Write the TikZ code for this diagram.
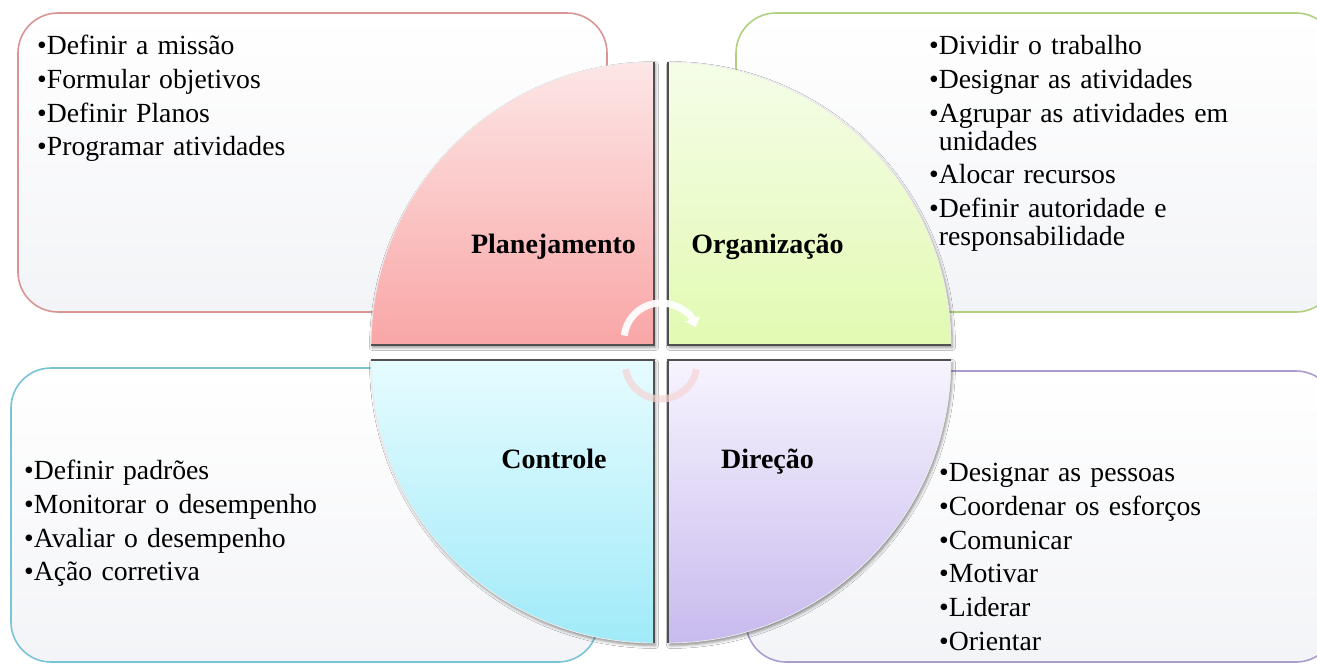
\documentclass[tikz,border=0pt]{standalone}
\usepackage{fontspec}
\setmainfont{Liberation Serif}
\usetikzlibrary{shadows.blur,arrows.meta}
\definecolor{bdP}{RGB}{217,149,148}
\definecolor{bdO}{RGB}{176,208,128}
\definecolor{bdC}{RGB}{120,196,214}
\definecolor{bdD}{RGB}{172,156,204}
\definecolor{boxbot}{RGB}{243,244,247}
\definecolor{pT}{RGB}{253,230,230}
\definecolor{pB}{RGB}{249,166,166}
\definecolor{oT}{RGB}{245,253,232}
\definecolor{oB}{RGB}{226,250,178}
\definecolor{cT}{RGB}{230,252,255}
\definecolor{cB}{RGB}{160,234,248}
\definecolor{dT}{RGB}{247,244,254}
\definecolor{dB}{RGB}{200,186,238}
\definecolor{edgegray}{RGB}{80,80,80}
\definecolor{cycpink}{RGB}{245,212,212}
\newlength\bulw
\newcommand\bitem{\par\settowidth\bulw{•}\hangindent=\bulw\hangafter=1\relax\noindent•}
\begin{document}
\begin{tikzpicture}[x=1pt,y=-1pt,
  infobox/.style={draw, line width=1.6pt, rounded corners=40pt, top color=white, bottom color=boxbot, shape=rectangle, inner sep=0pt},
  qshape/.style={blur shadow={shadow xshift=1.5pt,shadow yshift=-2.5pt,shadow blur radius=3pt,shadow opacity=45}},
  qedge/.style={draw=edgegray, line width=1.2pt},
  qrim/.style={draw=white!85!gray, line width=0.8pt},
  blist/.style={anchor=base west, text width=400pt, align=left, inner sep=0pt, font=\fontsize{27.7}{28}\selectfont, execute at begin node={\setlength\parskip{5.7pt}}},
  qlabel/.style={anchor=base, inner sep=0pt, font=\fontsize{28}{28}\selectfont\bfseries},
  cycA/.style={line width=7pt, draw=white, draw opacity=0.92},
  cycB/.style={line width=7pt, draw=cycpink, draw opacity=0.7}
]
\useasboundingbox (0,0) rectangle (1317,665);
\clip (0,0) rectangle (1317,665);
\fill[white] (0,0) rectangle (1317,665);

% outer boxes
\node[infobox, draw=bdP, minimum width=589pt, minimum height=299pt] (boxP) at (312.5,162.5) {};
\node[infobox, draw=bdO, minimum width=600pt, minimum height=299pt] (boxO) at (1036,162.5) {};
\node[infobox, draw=bdC, minimum width=587pt, minimum height=294pt] (boxC) at (304.5,515) {};
\node[infobox, draw=bdD, minimum width=590pt, minimum height=291pt] (boxD) at (1041,516.5) {};

% quadrants
\path[qshape, top color=pT, bottom color=pB] (654,345) -- (371,345) arc[start angle=180,end angle=270,radius=283] -- cycle;
\draw[qrim] (371,345) arc[start angle=180,end angle=270,radius=283];
\draw[qedge] (371,345) -- (654,345) -- (654,62);

\path[qshape, top color=oT, bottom color=oB] (668,345) -- (668,62) arc[start angle=270,end angle=360,radius=283] -- cycle;
\draw[qrim] (668,62) arc[start angle=270,end angle=360,radius=283];
\draw[qedge] (951,345) -- (668,345) -- (668,62);

\path[qshape, top color=cT, bottom color=cB] (654,360) -- (371,360) arc[start angle=180,end angle=90,radius=283] -- cycle;
\draw[qrim] (371,360) arc[start angle=180,end angle=90,radius=283];
\draw[qedge] (371,360) -- (654,360) -- (654,643);

\path[qshape, top color=dT, bottom color=dB] (668,360) -- (951,360) arc[start angle=0,end angle=90,radius=283] -- cycle;
\draw[qrim] (951,360) arc[start angle=0,end angle=90,radius=283];
\draw[qedge] (951,360) -- (668,360) -- (668,643);

% cycle arrows
\coordinate (cycTop) at (661,340);
\coordinate (cycBot) at (661,363);
\draw[cycA, -{Triangle[width=15pt,length=9pt]}] (cycTop) ++(187:37) arc[start angle=187,end angle=340,radius=37];
\draw[cycB] (cycBot) ++(170:36) arc[start angle=170,end angle=10,radius=36];

% labels
\node[qlabel] (lblP) at (553.5,253) {Planejamento};
\node[qlabel] (lblO) at (767.5,253) {Organização};
\node[qlabel] (lblC) at (554,468) {Controle};
\node[qlabel] (lblD) at (767.5,468) {Direção};

% lists
\node[blist] (listP) at (37,21) {\bitem Definir a missão \bitem Formular objetivos \bitem Definir Planos \bitem Programar atividades\par};
\node[blist] (listO) at (929,21) {\bitem Dividir o trabalho \bitem Designar as atividades \bitem Agrupar as atividades em\newline unidades \bitem Alocar recursos \bitem Definir autoridade e\newline responsabilidade\par};
\node[blist] (listC) at (24,446) {\bitem Definir padrões \bitem Monitorar o desempenho \bitem Avaliar o desempenho \bitem Ação corretiva\par};
\node[blist] (listD) at (939,448) {\bitem Designar as pessoas \bitem Coordenar os esforços \bitem Comunicar \bitem Motivar \bitem Liderar \bitem Orientar\par};
\end{tikzpicture}
\end{document}
